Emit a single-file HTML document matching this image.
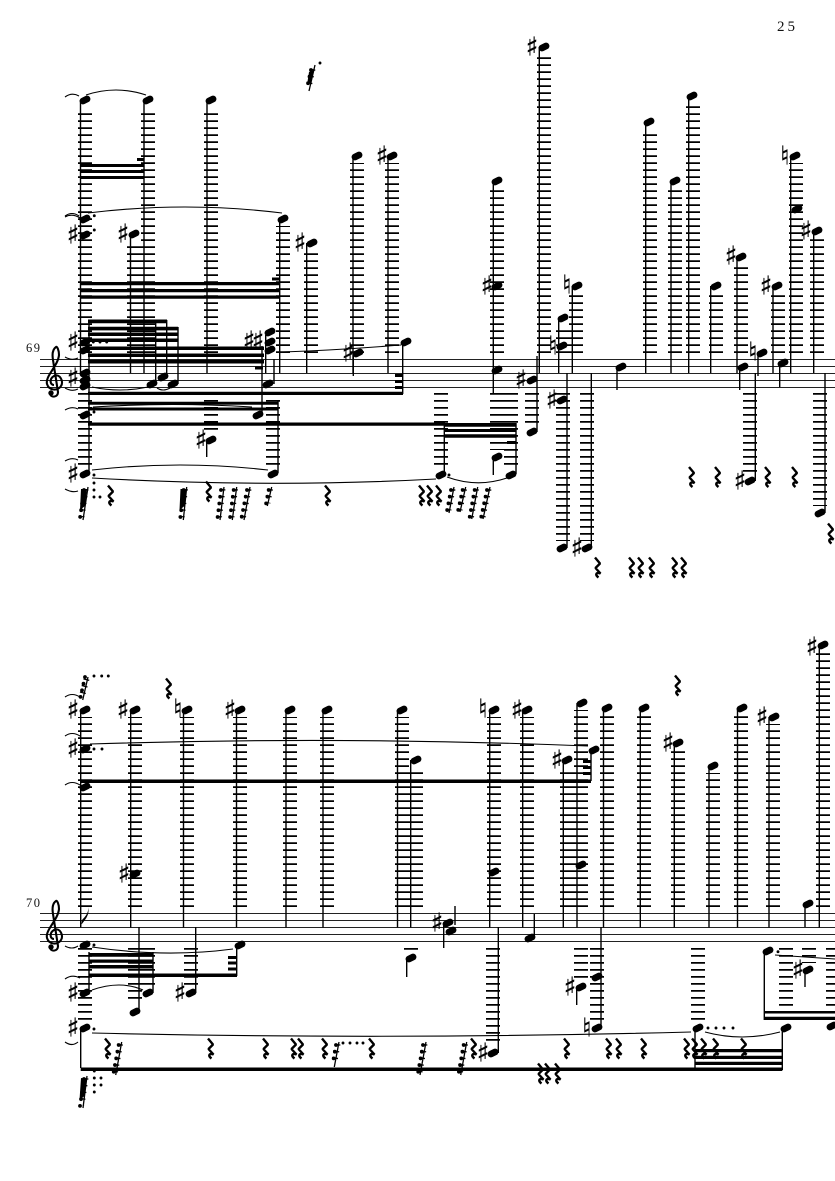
<!DOCTYPE html>
<html><head><meta charset="utf-8"><style>
html,body{margin:0;padding:0;background:#fff}
svg{display:block}
.t{font-family:"Liberation Serif",serif;fill:#111}
.a{font-family:"DejaVu Sans",sans-serif;font-size:26px;text-anchor:middle;fill:#000;stroke:#000;stroke-width:.35}
.a text{transform:translateY(2.4px)}
path{fill:none;stroke:#000}
.st{stroke-width:1;stroke:#222}
.l{stroke-width:14;stroke-dasharray:1.8 5.2}
.s{stroke-width:1.4}
.n{stroke-width:6.8;stroke-linecap:round}
.b{fill:#000;stroke:none}
.c{stroke-width:1.1}
.d{stroke-width:2.9;stroke-linecap:round}
.r{stroke-width:2.4;stroke-linejoin:bevel}
.f{stroke-width:1.3}
.fd{stroke-width:3.8;stroke-linecap:round;stroke-dasharray:0 6.8}
.ft{stroke-width:6;stroke-dasharray:1.3 5.5}
</style></head><body>
<svg xmlns="http://www.w3.org/2000/svg" width="835" height="1181" viewBox="0 0 835 1181">
<rect width="835" height="1181" fill="#fff"/>
<text class="t" x="777" y="31" font-size="15" textLength="18">25</text>
<text class="t" x="26" y="352" font-size="12.5" textLength="14">69</text>
<text class="t" x="26" y="907" font-size="12.5" textLength="14">70</text>
<path class="st" d="M40 359.5H835M40 366.5H835M40 373.5H835M40 380.5H835M40 387.5H835M40 913.5H835M40 920.5H835M40 927.5H835M40 934.5H835M40 941.5H835"/>

<!-- clefs -->
<path style="stroke-width:2.1" d="M54 385C50 385 49 379 54 376C60 373 64 382 61 386C58 391 49 391 47 384C45 376 58 366 59 355C59 350 57 346 56 347C53 349 52 354 53 360L58 392C58 398 50 398 50 393"/>
<path style="stroke-width:2.1" d="M54 939C50 939 49 933 54 930C60 927 64 936 61 940C58 945 49 945 47 938C45 930 58 920 59 909C59 904 57 900 56 901C53 903 52 908 53 914L58 946C58 952 50 952 50 947"/>
<path class="d" style="stroke-width:5.4" d="M51 393h0M51 947h0"/>

<!-- ledger stacks, system 1 above -->
<path class="l" d="M85 353V108M148 353V108M211 353V108M134 353V241M283 353V226M311 353V250M357 353V163M392 353V163M497 353V188M544 353V54M563 353V325M576 353V293M650 353V129M675 353V188M693 353V103M716 353V293M741 353V264M778 353V293M796 353V163M817 353V238"/>
<!-- system 1 below -->
<path class="l" d="M85 393V468M211 393V433M273 393V468M441 393V468M497 393V450M511 393V468M532 393V425M563 393V541M587 393V541M750 393V475M820 393V506"/>
<!-- system 2 above -->
<path class="l" d="M85 907V717M135 907V717M187 907V717M240 907V717M290 907V717M327 907V717M402 907V717M416 907V767M494 907V717M527 907V717M567 907V767M581 907V710M607 907V715M644 907V715M678 907V750M713 907V773M741 907V715M773 907V724M823 907V652"/>
<!-- system 2 below -->
<path class="l" d="M85 948V1021M148 948V986M135 948V1004M191 948V986M411 948V950M493 948V1046M581 948V980M597 948V1021M698 948V1021M786 948V1021M809 948V963M833 948V1019"/>

<!-- stems -->
<path class="s" d="M80.5 100V373M144 100V373M207 100V373M130.5 234V373M279.7 219V373M306.7 243V373M353 156V373M388 156V373M493.3 181V394M539.3 47V373M558.7 318V373M572.3 286V373M645.7 122V373M671 181V373M688.7 96V373M710.7 286V373M737 257V373M773 286V373M790.7 156V373M813.7 231V373
M89 320V474M155.7 320V384M166.7 320V377M178 327V384M262 346V415M265.7 335V373M274 359V384M278 400V473M206.7 440V457M353.3 352V376M402.7 342V394M444.3 423V475M493.3 457V475M516 423V474M537 356V432M567 373V548M591.3 373V548M617 367V390M739.7 367V390M758 352V376M779.7 363V387M755.3 373V481M825 373V513
M80.7 710V927.5M130.7 710V927.5M183.5 710V927.5M236.5 710V927.5M286 710V927.5M323 710V927.5M397.5 710V927.5M410.7 760V927.5M489.7 710V927.5M522.7 710V927.5M563.3 760V927.5M577 703V927.5M603.5 708V927.5M640.3 708V927.5M674.3 743V927.5M709 766V927.5M737.5 708V927.5M769 717V927.5M819.3 645V927.5
M80.7 1028V1068M89 952V993M153 952V993M139 927V1012M195.7 927V993M236.7 945V976M406.7 958V977M455 906V925M443.7 925V948M534.3 914V937M498.3 927V1053M576.7 987V1005M601 927V1028M591 750V781M695 1028V1070M782.3 1030V1070M764.3 951V1020M805 904V927M805 970V987"/>

<!-- beams -->
<path class="b" d="M80 164h64v3h-64zM80 170h64v3h-64zM80 176h64v3h-64zM137 158h7v3h-7zM80 282h200v3.2h-200zM80 289h200v3.2h-200zM80 295.5h200v3.2h-200zM272 277.5h8v3h-8zM88 319.5h79v3.7h-79zM88 326.7h90v3.7h-90zM88 332.5h90v3.5h-90zM88 338.5h90v3.5h-90zM88 346.5h176v3.5h-176zM88 353.5h176v3.5h-176zM88 360h176v3.5h-176zM255 366.5h8v3h-8zM88 391.7h315v3.3h-315zM395 374h8v3h-8zM395 380h8v3h-8zM395 386h8v3h-8zM88 401.7h190v3h-190zM88 407.5h190v3h-190zM88 422.5h357v3.3h-357zM444 423h72v3.8h-72zM444 429h72v3h-72zM444 434.3h72v3.4h-72zM507 441h9v3h-9z
M80 779.5h511v3.5h-511zM583 760h8v3h-8zM583 766h8v3h-8zM583 772h8v3h-8zM89 953h64v3.7h-64zM89 959.5h64v3.3h-64zM89 965h64v3.5h-64zM89 973.5h148v3.5h-148zM228 956h9v3h-9zM228 961.5h9v3h-9zM228 967.5h9v3h-9zM80.7 1067.5h701.6v3.5h-701.6zM695 1049h87v3.3h-87zM695 1055.7h87v3.3h-87zM695 1061.7h87v3.3h-87zM764 1011h71v2.5h-71zM764 1016.7h71v3.3h-71z
M81 927L82 920C86 916 89 912 88 907C90 914 86 919 81 925z
M81 489H87L85 506L80 510zM180.5 489H186.5L184.5 506L179.5 510zM309 72L314 70L311 82L307 85zM81 1078L86.5 1079L84.5 1096L79.5 1100z"/>

<!-- noteheads -->
<path class="n" d="M83 101l4-2M146 101l4-2M209 101l4-2M83 220l4-2M83 236l4-2M132 235l4-2M281 220l4-2M310 244l4-2M355 157l4-2M390 157l4-2M495 182l4-2M495 287l4-2M495 371l4-2M542 48l4-2M530 381l4-2M530 433l4-2M561 319l4-2M560 347l4-2M575 287l4-2M560 401l4-2M560 549l4-2M585 549l4-2M619 368l4-2M647 123l4-2M673 182l4-2M690 97l4-2M714 287l4-2M739 258l4-2M741 368l4-2M760 354l4-2M775 287l4-2M781 364l4-2M793 157l4-2M795 210l4-2M815 232l4-2M748 482l4-2M818 514l4-2M509 476l4-2M495 458l4-2M439 476l4-2M271 475l4-2M83 343l4-2M83 351l4-2M83 374l4-2M83 381l4-2M83 387l4-2M83 416l4-2M83 475l4-2M150 385l4-2M161 378l4-2M171 385l4-2M256 416l4-2M266 385l4-2M268 333l4-2M268 343l4-2M268 351l4-2M209 441l4-2M356 354l4-2M404 343l4-2
M83 711l4-2M133 711l4-2M185 711l4-2M238 711l4-2M288 711l4-2M325 711l4-2M400 711l4-2M492 711l4-2M525 711l4-2M565 761l4-2M580 704l4-2M605 709l4-2M642 709l4-2M676 744l4-2M711 767l4-2M740 709l4-2M772 718l4-2M821 646l4-2M414 761l4-2M83 750l4-2M83 788l4-2M592 751l4-2M133 875l4-2M492 873l4-2M579 866l4-2M806 905l4-2M83 946l4-2M238 946l4-2M83 994l4-2M146 994l4-2M133 1013l4-2M189 994l4-2M83 1029l4-2M446 924l4-2M449 932l4-2M409 959l4-2M528 939l4-2M579 988l4-2M595 978l4-2M595 1029l4-2M696 1029l4-2M784 1029l4-2M766 952l4-2M806 971l4-2M830 1027l4-2M491 1054l4-2"/>

<!-- slurs and ties -->
<path class="c" d="M86 95Q116 85 146 95M88 213Q185 201 282 213M65 97Q72 92 79 96M65 216Q72 211 79 216M65 217Q72 213 80 218M65 357Q72 361 78 358M65 388Q72 392 78 389M65 410Q72 406 78 409M65 461Q72 457 78 460M65 489Q72 493 78 491M92 387Q120 393 148 387M157 388Q163 392 170 388M93 407Q172 402 252 407M92 470Q180 460 268 470M92 478Q270 488 436 479M447 477Q477 488 507 478M283 352Q340 350 401 345
M90 744Q340 736 588 746M65 697Q72 692 80 697M65 736Q72 731 80 736M65 785Q72 780 80 785M65 946Q72 950 78 946M65 979Q72 974 80 978M65 1042Q72 1047 78 1042M92 947Q165 958 233 949M92 990Q120 980 143 990M92 1033Q390 1040 691 1032M705 1032Q742 1042 780 1032M775 955L835 959"/>

<!-- dots -->
<path class="d" d="M94.3 215.7h0M94.3 230h0M93.3 342h0M100 342h0M106.7 342h0M94 412h0M94 475h0M94 483h0M94 490h0M94 497h0M100 497h0M449 475h0M320 63h0M94 676h0M101.7 676h0M108.3 676h0M94 749h0M102 749h0M94 945h0M94 1029h0M343 1043h0M350 1043h0M357 1043h0M363 1043h0M708 1028h0M716 1028h0M724 1028h0M733 1028h0M778 951.7h0M94.3 1071h0M94.3 1078h0M101 1078h0M94.3 1085h0M101 1085h0M94.3 1092h0"/>

<!-- quarter rests -->
<path class="r" d="M689 467l5 6-4.5 4.5 5 5.5c-4-1.5-6 1-2 4M715 467l5 6-4.5 4.5 5 5.5c-4-1.5-6 1-2 4M765 467l5 6-4.5 4.5 5 5.5c-4-1.5-6 1-2 4M792 467l5 6-4.5 4.5 5 5.5c-4-1.5-6 1-2 4M828 523.5l5 6-4.5 4.5 5 5.5c-4-1.5-6 1-2 4M595 557.5l5 6-4.5 4.5 5 5.5c-4-1.5-6 1-2 4M629 557.5l5 6-4.5 4.5 5 5.5c-4-1.5-6 1-2 4M638 557.5l5 6-4.5 4.5 5 5.5c-4-1.5-6 1-2 4M649 557.5l5 6-4.5 4.5 5 5.5c-4-1.5-6 1-2 4M672 557.5l5 6-4.5 4.5 5 5.5c-4-1.5-6 1-2 4M681 557.5l5 6-4.5 4.5 5 5.5c-4-1.5-6 1-2 4M108 485.5l5 6-4.5 4.5 5 5.5c-4-1.5-6 1-2 4M206 481.5l5 6-4.5 4.5 5 5.5c-4-1.5-6 1-2 4M325 485.5l5 6-4.5 4.5 5 5.5c-4-1.5-6 1-2 4M419 485.5l5 6-4.5 4.5 5 5.5c-4-1.5-6 1-2 4M427 485.5l5 6-4.5 4.5 5 5.5c-4-1.5-6 1-2 4M436 485.5l5 6-4.5 4.5 5 5.5c-4-1.5-6 1-2 4
M166 678.5l5 6-4.5 4.5 5 5.5c-4-1.5-6 1-2 4M675 675.5l5 6-4.5 4.5 5 5.5c-4-1.5-6 1-2 4M105 1038.5l5 6-4.5 4.5 5 5.5c-4-1.5-6 1-2 4M208 1038.5l5 6-4.5 4.5 5 5.5c-4-1.5-6 1-2 4M263 1038.5l5 6-4.5 4.5 5 5.5c-4-1.5-6 1-2 4M291 1038.5l5 6-4.5 4.5 5 5.5c-4-1.5-6 1-2 4M298 1038.5l5 6-4.5 4.5 5 5.5c-4-1.5-6 1-2 4M322 1038.5l5 6-4.5 4.5 5 5.5c-4-1.5-6 1-2 4M369 1038.5l5 6-4.5 4.5 5 5.5c-4-1.5-6 1-2 4M471 1038.5l5 6-4.5 4.5 5 5.5c-4-1.5-6 1-2 4M564 1038.5l5 6-4.5 4.5 5 5.5c-4-1.5-6 1-2 4M606 1038.5l5 6-4.5 4.5 5 5.5c-4-1.5-6 1-2 4M616 1038.5l5 6-4.5 4.5 5 5.5c-4-1.5-6 1-2 4M641 1038.5l5 6-4.5 4.5 5 5.5c-4-1.5-6 1-2 4M684 1038.5l5 6-4.5 4.5 5 5.5c-4-1.5-6 1-2 4M692 1038.5l5 6-4.5 4.5 5 5.5c-4-1.5-6 1-2 4M701 1038.5l5 6-4.5 4.5 5 5.5c-4-1.5-6 1-2 4M713 1038.5l5 6-4.5 4.5 5 5.5c-4-1.5-6 1-2 4M741 1038.5l5 6-4.5 4.5 5 5.5c-4-1.5-6 1-2 4M538 1063.5l5 6-4.5 4.5 5 5.5c-4-1.5-6 1-2 4M545 1063.5l5 6-4.5 4.5 5 5.5c-4-1.5-6 1-2 4M555 1063.5l5 6-4.5 4.5 5 5.5c-4-1.5-6 1-2 4"/>

<!-- flagged rests: slash, dots, ticks -->
<path class="f" d="M88 487L83 520M186.7 487L183.3 520M224 487L220 520M236.7 487L232.3 520M250 487L244 520M271.7 487L267.3 506M454 487L449 513M465.7 487L460 512M477.7 487L471.7 519M490 487L483 519M315 65L309 91M88 677L82.7 700M121.7 1042L115.7 1075M339 1042L334.3 1067M426 1042L420 1075M466.7 1042L460.7 1075M87 1076L83 1108"/>
<path class="fd" d="M84 490L80 518M183.7 490L180.3 518M221 490L217.5 518M233.7 490L230 518M247 490L241.5 518M268.7 490L266 504M451 490L447 511M462.7 490L458 511M474.7 490L469.5 518M487 490L481 518M311 70L307 88M85 677L80.5 697M118.7 1045L113.5 1073M336 1045L332.5 1065M423 1045L418 1073M463.7 1045L458.7 1073M84 1079L80 1106"/>
<path class="ft" d="M85.5 489L81.5 517M185 489L181.7 517M222.5 489L219 517M235 489L231.5 517M248.5 489L243 517M270 489L267.5 503M452.5 489L448.5 510M464 489L459.5 510M476 489L471 517M488.5 489L482.5 517M312.5 69L308.5 87M86.5 679L82 696M120 1044L115 1072M337.5 1044L334 1064M424.5 1044L419.5 1072M465 1044L460 1072M85.5 1078L81.5 1105"/>

<!-- accidentals, system 1 -->
<g class="a">
<text x="73" y="241">♯</text><text x="123" y="240">♯</text><text x="300" y="249">♯</text><text x="382" y="162">♯</text><text x="487" y="292">♯</text><text x="532" y="53">♯</text><text x="521" y="386">♯</text><text x="552" y="406">♯</text><text x="577" y="554">♯</text><text x="731" y="262">♯</text><text x="766" y="292">♯</text><text x="806" y="237">♯</text><text x="740" y="487">♯</text><text x="73" y="348">♯</text><text x="73" y="384">♯</text><text x="73" y="480">♯</text><text x="201" y="446">♯</text><text x="249" y="347">♯</text><text x="258" y="347">♯</text><text x="348" y="359">♯</text>
<text x="553" y="352">♮</text><text x="567" y="291">♮</text><text x="753" y="358">♮</text><text x="785" y="162">♮</text>
<!-- system 2 -->
<text x="73" y="716">♯</text><text x="123" y="716">♯</text><text x="230" y="716">♯</text><text x="517" y="716">♯</text><text x="73" y="755">♯</text><text x="124" y="880">♯</text><text x="73" y="999">♯</text><text x="180" y="999">♯</text><text x="73" y="1034">♯</text><text x="437" y="929">♯</text><text x="483" y="1059">♯</text><text x="570" y="993">♯</text><text x="557" y="766">♯</text><text x="668" y="749">♯</text><text x="762" y="723">♯</text><text x="812" y="653">♯</text><text x="798" y="976">♯</text>
<text x="178" y="715">♮</text><text x="483" y="715">♮</text><text x="587" y="1034">♮</text>
</g>
</svg>
</body></html>
